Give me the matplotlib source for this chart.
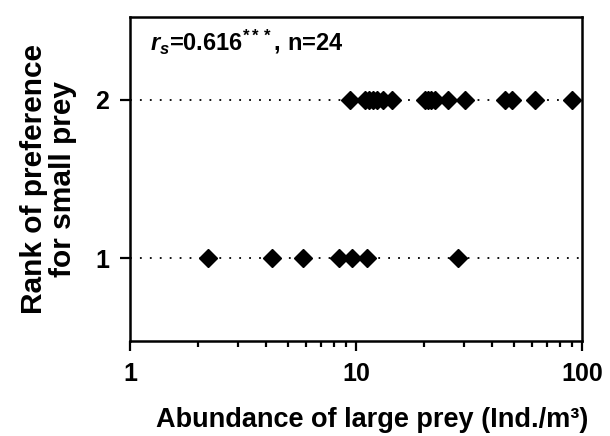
import matplotlib
matplotlib.use("Agg")
import matplotlib.pyplot as plt
from matplotlib.ticker import FixedLocator, FixedFormatter, LogLocator, NullFormatter

plt.rcParams['font.family'] = ['Liberation Sans', 'DejaVu Sans']
plt.rcParams['font.weight'] = 'bold'
plt.rcParams['mathtext.fontset'] = 'custom'
plt.rcParams['mathtext.rm'] = 'Liberation Sans:bold'
plt.rcParams['mathtext.it'] = 'Liberation Sans:bold:italic'
plt.rcParams['mathtext.bf'] = 'Liberation Sans:bold'

# abundance of large prey (Ind./m3) for each rank
abund_rank2 = [9.4, 11.0, 11.4, 11.9, 12.4, 13.2, 14.4, 20.2, 20.8, 21.5, 22.4,
               25.5, 30.4, 45.6, 49.0, 61.9, 90.3]
abund_rank1 = [2.21, 4.25, 5.83, 8.41, 9.6, 11.2, 28.3]
ranks = [1, 2]
xticks = [1, 10, 100]
xtick_labels = ['1', '10', '100']

fig = plt.figure(figsize=(6.1, 4.36), dpi=100)
ax = fig.add_axes([0.213, 0.218, 0.741, 0.743])

# dotted guide lines at each rank
for r in ranks:
    ax.axhline(r, color='black', linestyle=(0, (1, 4.5)), linewidth=1.3, zorder=1)

ax.plot(abund_rank1, [1] * len(abund_rank1), 'D', color='black', markersize=9.5, zorder=3)
ax.plot(abund_rank2, [2] * len(abund_rank2), 'D', color='black', markersize=9.5, zorder=3)

ax.set_xscale('log')
ax.set_xlim(1, 100)
ax.set_ylim(0.48, 2.52)
ax.xaxis.set_major_locator(FixedLocator(xticks))
ax.xaxis.set_major_formatter(FixedFormatter(xtick_labels))
ax.xaxis.set_minor_locator(LogLocator(base=10, subs=range(2, 10)))
ax.xaxis.set_minor_formatter(NullFormatter())
ax.set_yticks(ranks)

for s in ax.spines.values():
    s.set_linewidth(1.8)
ax.tick_params(axis='both', which='major', direction='out', length=7, width=1.6,
               labelsize=18, pad=8)
ax.tick_params(axis='x', which='minor', direction='out', length=4.5, width=1.6)
for lab in ax.get_xticklabels() + ax.get_yticklabels():
    lab.set_fontweight('bold')

ax.set_xlabel('Abundance of large prey (Ind./m³)', fontsize=19.5, fontweight='bold',
              labelpad=15, x=0.535)
ax.set_ylabel('Rank of preference\nfor small prey', fontsize=21.5, fontweight='bold',
              labelpad=13, linespacing=1.05)

ax.text(0.045, 0.925, r'$r_s$=0.616$^{***}$, n=24', transform=ax.transAxes,
        fontsize=17, fontweight='bold', va='center', ha='left')

fig.savefig('out.png', dpi=100)
